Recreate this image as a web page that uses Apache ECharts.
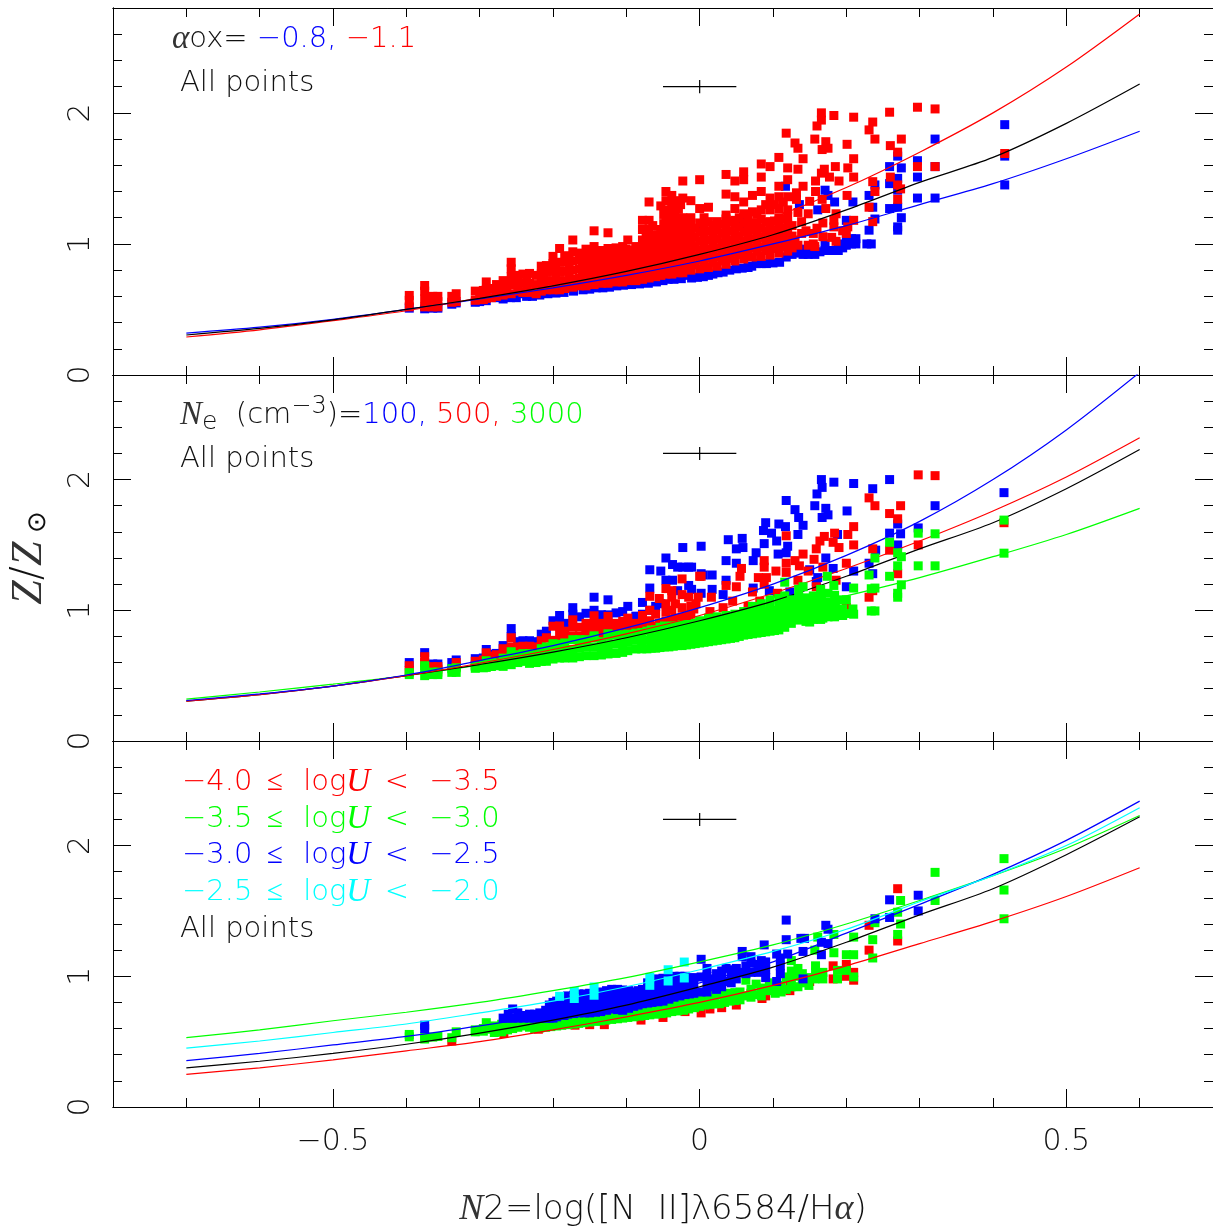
<!DOCTYPE html>
<html>
<head>
<meta charset="utf-8">
<title>Z vs N2</title>
<script src="https://cdn.jsdelivr.net/npm/echarts@6/dist/echarts.min.js"></script>
<style>
html, body { margin: 0; padding: 0; background: #fff; }
#chart_wrap { width: 1213px; height: 1230px; }
</style>
</head>
<body>
<div id="chart_wrap"></div>
<script>
// model curves
var curveX = [-0.7, -0.6, -0.5, -0.4, -0.3, -0.2, -0.1, 0, 0.1, 0.2, 0.3, 0.4, 0.5, 0.6];
var p1Black = [0.305, 0.355, 0.42, 0.5, 0.585, 0.68, 0.79, 0.92, 1.07, 1.26, 1.47, 1.66, 1.92, 2.22];
var p1Blue = [0.32, 0.365, 0.425, 0.5, 0.58, 0.665, 0.76, 0.87, 1.0, 1.14, 1.30, 1.46, 1.65, 1.86];
var p1Red = [0.29, 0.345, 0.415, 0.49, 0.59, 0.70, 0.85, 1.01, 1.20, 1.43, 1.70, 2.0, 2.35, 2.755];
var p2Black = [0.305, 0.355, 0.42, 0.5, 0.585, 0.68, 0.79, 0.92, 1.07, 1.26, 1.47, 1.67, 1.93, 2.23];
var p2Blue = [0.31, 0.36, 0.42, 0.505, 0.615, 0.73, 0.865, 1.02, 1.2, 1.42, 1.68, 2.0, 2.38, 2.82];
var p2Red = [0.305, 0.355, 0.42, 0.5, 0.595, 0.70, 0.82, 0.96, 1.13, 1.32, 1.53, 1.76, 2.02, 2.32];
var p2Green = [0.32, 0.375, 0.435, 0.5, 0.58, 0.66, 0.75, 0.86, 0.98, 1.11, 1.25, 1.41, 1.58, 1.78];
var p3Black = [0.30, 0.35, 0.41, 0.48, 0.565, 0.665, 0.78, 0.92, 1.07, 1.26, 1.47, 1.67, 1.93, 2.22];
var p3Blue = [0.355, 0.41, 0.475, 0.54, 0.62, 0.71, 0.82, 0.95, 1.11, 1.33, 1.55, 1.78, 2.04, 2.34];
var p3Red = [0.25, 0.30, 0.36, 0.43, 0.50, 0.59, 0.69, 0.80, 0.93, 1.08, 1.25, 1.42, 1.61, 1.83];
var p3Green = [0.53, 0.59, 0.66, 0.725, 0.80, 0.89, 0.99, 1.11, 1.24, 1.40, 1.58, 1.77, 1.98, 2.23];
var p3Cyan = [0.45, 0.505, 0.57, 0.635, 0.72, 0.81, 0.92, 1.05, 1.19, 1.36, 1.57, 1.77, 2.0, 2.29];

// +/- error cross
var crossH = [[-0.05, 2.2], [0.05, 2.2]];
var crossV = [[0, 2.15], [0, 2.25]];

// points are stored column by column: [x, y, y, y...]
var p1BlueCols = [
  [-0.396, 0.51], [-0.375, 0.505], [-0.364, 0.51], [-0.357, 0.51], [-0.338, 0.54], [-0.332, 0.55], [-0.306, 0.555],
  [-0.3, 0.56], [-0.291, 0.567], [-0.278, 0.59], [-0.268, 0.58], [-0.258, 0.59], [-0.25, 0.59], [-0.244, 0.62], [-0.236, 0.6],
  [-0.228, 0.60], [-0.218, 0.61], [-0.207, 0.62], [-0.196, 0.625], [-0.185, 0.63], [-0.172, 0.64], [-0.159, 0.65], [-0.15, 0.655],
  [-0.141, 0.665], [-0.132, 0.665], [-0.123, 0.67], [-0.113, 0.68], [-0.104, 0.685], [-0.093, 0.69], [-0.082, 0.695], [-0.07, 0.7],
  [-0.059, 0.71], [-0.05, 0.72], [-0.043, 0.73], [-0.035, 0.73], [-0.027, 0.74], [-0.014, 0.76], [-0.025, 0.735], [-0.011, 0.74],
  [-0.003, 0.745], [0.005, 0.75], [0.012, 0.76], [0.018, 0.77], [0.025, 0.78], [0.032, 0.785], [0.041, 0.8], [0.05, 0.81], [0.058, 0.815],
  [0.066, 0.82], [0.071, 0.83], [0.077, 0.85], [0.084, 0.85], [0.091, 0.85], [0.1, 0.855], [0.109, 0.86], [0.118, 0.90], [0.126, 0.92],
  [0.134, 0.93, 0.96], [0.141, 0.92, 0.96], [0.148, 0.92, 0.95], [0.157, 0.92, 0.96], [0.164, 0.94], [0.171, 0.95, 1.0], [0.18, 0.95], [0.189, 0.95, 1.0], [0.195, 0.97], [0.2, 0.99, 1.03], [0.207, 1.0, 1.04], [0.213, 1.0, 1.04],
  [0.234, 1.0], [0.228, 1.0], [0.231, 1.105, 1.37], [0.27, 1.105, 1.13, 1.28, 1.41, 1.5, 1.67], [0.275, 1.2, 1.58],
  [0.239, 1.19, 1.45], [0.2, 1.18], [0.236, 1.28], [0.259, 1.27, 1.46, 1.59], [0.209, 1.32], [0.184, 1.32],
  [0.297, 1.35, 1.51, 1.635], [0.321, 1.35, 1.59, 1.8], [0.416, 1.45, 1.67, 1.91], [0.171, 1.41], [0.175, 1.37],
  [0.161, 1.26], [0.136, 1.3], [0.117, 1.44], [0.002, 1.13], [0.059, 1.145, 1.18]
];
var p1RedCols = [
  [-0.396, 0.52, 0.57, 0.607], [-0.375, 0.52, 0.58, 0.64, 0.683], [-0.364, 0.52, 0.57, 0.6], [-0.357, 0.52, 0.56, 0.6],
  [-0.338, 0.555, 0.6], [-0.332, 0.56, 0.62], [-0.306, 0.57, 0.64], [-0.295, 0.575, 0.645], [-0.291, 0.585, 0.65, 0.71],
  [-0.284, 0.59, 0.66], [-0.277, 0.6, 0.66, 0.69], [-0.268, 0.61, 0.67, 0.72], [-0.257, 0.62, 0.69, 0.75, 0.81, 0.86],
  [-0.248, 0.64, 0.7, 0.76], [-0.241, 0.63, 0.7, 0.77], [-0.232, 0.63, 0.7, 0.775], [-0.223, 0.62, 0.69, 0.76],
  [-0.216, 0.64, 0.7, 0.77, 0.83], [-0.209, 0.65, 0.72, 0.79, 0.835], [-0.2, 0.65, 0.72, 0.79, 0.85, 0.905],
  [-0.191, 0.65, 0.72, 0.79, 0.86, 0.965], [-0.184, 0.66, 0.72, 0.79, 0.86, 0.91], [-0.173, 0.67, 0.73, 0.8, 0.87, 0.94, 1.03],
  [-0.164, 0.68, 0.74, 0.81, 0.88, 0.93], [-0.155, 0.68, 0.75, 0.82, 0.89, 0.96], [-0.144, 0.69, 0.75, 0.82, 0.89, 0.98, 1.1],
  [-0.134, 0.7, 0.76, 0.83, 0.9, 0.95], [-0.125, 0.7, 0.77, 0.84, 0.91, 0.965, 1.085], [-0.114, 0.71, 0.78, 0.85, 0.91, 0.97],
  [-0.105, 0.71, 0.78, 0.85, 0.92, 0.98], [-0.098, 0.72, 0.79, 0.86, 0.93, 1.03], [-0.087, 0.72, 0.79, 0.86, 0.93, 0.98],
  [-0.078, 0.73, 0.8, 0.87, 0.94, 1.03, 1.11, 1.18], [-0.069, 0.74, 0.81, 0.88, 0.95, 1.02, 1.11, 1.18, 1.32],
  [-0.06, 0.75, 0.82, 0.89, 0.96, 1.03], [-0.053, 0.76, 0.83, 0.9, 0.97, 1.04, 1.11, 1.29],
  [-0.046, 0.77, 0.84, 0.91, 0.98, 1.05, 1.12, 1.19, 1.26, 1.33, 1.4], [-0.038, 0.77, 0.84, 0.91, 0.98, 1.05, 1.12, 1.19, 1.26, 1.31, 1.37],
  [-0.029, 0.78, 0.85, 0.92, 0.99, 1.06, 1.13, 1.2, 1.27, 1.33], [-0.023, 0.78, 0.85, 0.92, 0.99, 1.06, 1.13, 1.2, 1.35, 1.48],
  [-0.012, 0.8, 0.87, 0.94, 1.01, 1.08, 1.15, 1.2, 1.33], [0, 0.81, 0.88, 0.95, 1.02, 1.09, 1.16, 1.27, 1.49],
  [0.012, 0.82, 0.89, 0.96, 1.03, 1.1, 1.17, 1.28], [0.024, 0.83, 0.9, 0.97, 1.04, 1.11, 1.17],
  [0.036, 0.845, 0.91, 0.98, 1.05, 1.12, 1.19, 1.22, 1.38, 1.53], [0.048, 0.87, 0.94, 1.01, 1.08, 1.15, 1.18, 1.27, 1.36, 1.48],
  [0.06, 0.885, 0.95, 1.02, 1.09, 1.16, 1.23, 1.32, 1.49, 1.55], [0.072, 0.9, 0.97, 1.04, 1.11, 1.16, 1.245, 1.37],
  [0.084, 0.905, 0.975, 1.05, 1.12, 1.19, 1.26, 1.4, 1.51, 1.61], [0.096, 0.915, 0.985, 1.06, 1.13, 1.17, 1.26, 1.35, 1.59],
  [0.108, 0.93, 1.0, 1.07, 1.14, 1.2, 1.27, 1.36, 1.44, 1.66], [0.12, 0.945, 1.01, 1.08, 1.15, 1.21, 1.26, 1.36, 1.49, 1.58],
  [0.13, 1.77, 1.03], [0.134, 0.99, 1.24, 1.57, 1.73], [0.139, 1.08, 1.17], [0.141, 1.44, 1.65], [0.132, 1.34, 1.39],
  [0.145, 1.1], [0.148, 0.99, 1.23], [0.15, 1.325], [0.155, 1.0, 1.08], [0.157, 0.98, 1.8], [0.158, 1.4, 1.48], [0.16, 1.12, 1.9], [0.166, 1.54, 1.945, 2.0],
  [0.167, 1.34, 1.72], [0.168, 1.055, 1.16], [0.17, 1.57], [0.172, 1.27, 1.78], [0.175, 1.73], [0.177, 1.51], [0.18, 1.05], [0.183, 1.18, 1.98],
  [0.183, 1.13], [0.185, 1.59], [0.186, 1.02, 1.23], [0.19, 1.48], [0.195, 1.1], [0.2, 1.08], [0.201, 1.37, 1.76], [0.202, 1.13, 1.58],
  [0.21, 1.18, 1.51, 1.65, 1.967], [0.231, 1.28, 1.87], [0.236, 1.17, 1.475, 1.93], [0.239, 1.4, 1.8], [0.259, 2.005],
  [0.26, 1.51, 1.75], [0.27, 1.34, 1.45, 1.7], [0.274, 1.42], [0.275, 1.8], [0.297, 1.59, 2.043], [0.321, 1.59, 2.03], [0.416, 1.69],
  [0.118, 1.845]
];
// second layer of red that closes the gaps in the dense part
var p1RedFill = [
  [-0.3, 0.6], [-0.263, 0.65, 0.7], [-0.236, 0.665, 0.735], [-0.212, 0.68, 0.75], [-0.196, 0.685, 0.755, 0.825], [-0.178, 0.7, 0.765, 0.835, 0.905],
  [-0.16, 0.71, 0.78, 0.85, 0.91], [-0.15, 0.715, 0.785, 0.855, 0.925], [-0.139, 0.725, 0.795, 0.865, 0.93], [-0.129, 0.735, 0.805, 0.875, 0.94],
  [-0.119, 0.745, 0.815, 0.885, 0.95], [-0.11, 0.745, 0.815, 0.885, 0.95], [-0.101, 0.75, 0.82, 0.89, 0.96], [-0.092, 0.755, 0.825, 0.895, 0.955],
  [-0.083, 0.76, 0.83, 0.9, 0.97], [-0.073, 0.77, 0.84, 0.91, 0.98, 1.06], [-0.064, 0.78, 0.85, 0.92, 0.99, 1.07, 1.14], [-0.056, 0.795, 0.865, 0.935, 1.0, 1.07],
  [-0.049, 0.805, 0.875, 0.945, 1.015, 1.085, 1.155, 1.225], [-0.042, 0.805, 0.875, 0.945, 1.015, 1.085, 1.155, 1.225],
  [-0.034, 0.815, 0.885, 0.955, 1.025, 1.095, 1.165, 1.235], [-0.026, 0.815, 0.885, 0.955, 1.025, 1.095, 1.165, 1.3],
  [-0.018, 0.83, 0.9, 0.97, 1.04, 1.11, 1.18], [-0.006, 0.84, 0.91, 0.98, 1.05, 1.12], [0.006, 0.85, 0.92, 0.99, 1.06, 1.13, 1.2],
  [0.018, 0.86, 0.93, 1.0, 1.07, 1.14], [0.03, 0.87, 0.94, 1.01, 1.08, 1.15], [0.042, 0.89, 0.96, 1.03, 1.1, 1.17], [0.054, 0.92, 0.99, 1.06, 1.13, 1.2],
  [0.066, 0.935, 1.005, 1.075, 1.145, 1.21], [0.078, 0.945, 1.015, 1.085, 1.155, 1.225], [0.09, 0.95, 1.02, 1.095, 1.165, 1.3],
  [0.102, 0.965, 1.035, 1.105, 1.175, 1.3], [0.114, 0.98, 1.05, 1.12, 1.19, 1.32], [0.126, 0.97, 1.06, 1.14]
];
var p2BlueCols = [
  [-0.396, 0.6], [-0.375, 0.676], [-0.364, 0.589], [-0.357, 0.589], [-0.338, 0.6], [-0.332, 0.62], [-0.306, 0.63],
  [-0.295, 0.635], [-0.291, 0.7], [-0.284, 0.665], [-0.277, 0.67], [-0.268, 0.73], [-0.257, 0.8, 0.86], [-0.248, 0.76],
  [-0.241, 0.767], [-0.232, 0.767], [-0.223, 0.76], [-0.216, 0.817], [-0.209, 0.84], [-0.2, 0.92], [-0.191, 0.9, 0.96],
  [-0.184, 0.9], [-0.173, 0.97, 1.02], [-0.164, 0.95], [-0.155, 0.977], [-0.144, 1.0, 1.1], [-0.134, 0.966],
  [-0.125, 0.965, 1.08], [-0.114, 0.98], [-0.105, 0.99], [-0.098, 1.03], [-0.087, 0.955], [-0.078, 1.06, 0.97],
  [-0.068, 1.0, 1.17, 1.31], [-0.06, 1.03], [-0.053, 1.3, 1.05], [-0.046, 1.23, 1.4], [-0.037, 1.23, 1.35],
  [-0.03, 1.15, 1.33], [-0.023, 1.33, 1.48], [-0.015, 1.19, 1.33], [-0.011, 1.16, 1.33], [0.002, 1.13, 1.28, 1.49],
  [0.005, 1.27], [0.017, 1.16, 1.27], [0.032, 1.12], [0.036, 1.23, 1.38], [0.039, 1.54], [0.05, 1.36, 1.47], [0.058, 1.55],
  [0.059, 1.48], [0.073, 1.17, 1.38], [0.077, 1.44], [0.087, 1.61], [0.088, 1.51], [0.09, 1.67], [0.095, 1.15], [0.098, 1.59],
  [0.105, 1.53], [0.107, 1.43], [0.108, 1.66], [0.117, 1.64], [0.118, 1.44, 1.84], [0.12, 1.49], [0.123, 1.14], [0.13, 1.77],
  [0.134, 1.58], [0.135, 1.71], [0.141, 1.65], [0.15, 1.31], [0.157, 1.8], [0.159, 1.22], [0.16, 1.89], [0.161, 1.25],
  [0.166, 2.0], [0.167, 1.71, 1.94], [0.172, 1.4, 1.78], [0.175, 1.73], [0.182, 1.32], [0.183, 1.98], [0.188, 1.58],
  [0.2, 1.18], [0.201, 1.76], [0.21, 1.3, 1.97], [0.231, 1.36], [0.236, 1.28, 1.93], [0.24, 1.46], [0.259, 1.59, 2.0],
  [0.27, 1.5, 1.66], [0.274, 1.585], [0.298, 1.63], [0.321, 1.8], [0.415, 1.9]
];
var p2RedCols = [
  [-0.396, 0.54, 0.576], [-0.375, 0.6, 0.645], [-0.364, 0.55, 0.569], [-0.357, 0.55, 0.569], [-0.332, 0.57, 0.6],
  [-0.306, 0.58, 0.61], [-0.295, 0.59, 0.62], [-0.291, 0.63, 0.675], [-0.284, 0.62, 0.65], [-0.277, 0.62, 0.66],
  [-0.268, 0.66, 0.706], [-0.257, 0.72, 0.79], [-0.248, 0.68, 0.72], [-0.241, 0.68, 0.725], [-0.232, 0.68, 0.725],
  [-0.223, 0.68, 0.72], [-0.216, 0.71, 0.767], [-0.209, 0.72, 0.79], [-0.2, 0.77, 0.878], [-0.191, 0.77, 0.82, 0.88],
  [-0.184, 0.78, 0.84], [-0.173, 0.8, 0.87, 0.927], [-0.164, 0.8, 0.87], [-0.155, 0.81, 0.87, 0.9], [-0.144, 0.84, 0.9, 0.958],
  [-0.134, 0.8, 0.86, 0.9], [-0.125, 0.85, 0.9, 0.953], [-0.114, 0.84, 0.9], [-0.105, 0.84, 0.9, 0.916], [-0.098, 0.85, 0.9, 0.94],
  [-0.087, 0.85, 0.9], [-0.078, 0.85, 0.91, 0.96], [-0.068, 0.86, 0.92, 1.0, 1.107], [-0.06, 0.88, 0.97], [-0.055, 0.9, 1.09],
  [-0.046, 0.92, 0.99, 1.05, 1.166], [-0.038, 0.93, 1.0, 1.1, 1.15], [-0.033, 0.94, 1.05], [-0.024, 0.95, 1.02, 1.12, 1.24],
  [-0.015, 0.96, 1.1], [-0.012, 0.97, 1.03], [-0.008, 1.01], [-0.005, 1.05], [-0.002, 1.1], [0.0, 1.26], [0.002, 1.26], [0.014, 0.99],
  [0.016, 1.1], [0.032, 1.02], [0.036, 1.19], [0.045, 1.07], [0.05, 1.18], [0.055, 1.26], [0.057, 1.32], [0.066, 1.03],
  [0.072, 1.14], [0.08, 1.25], [0.082, 1.07], [0.088, 1.2, 1.33, 1.38], [0.091, 1.25], [0.104, 1.3], [0.106, 1.13],
  [0.118, 1.29, 1.36, 1.57], [0.13, 1.38], [0.134, 1.23], [0.136, 1.34], [0.141, 1.43], [0.148, 1.3], [0.156, 1.39],
  [0.159, 1.18, 1.47], [0.164, 1.53], [0.168, 1.33], [0.17, 1.565], [0.182, 1.52], [0.184, 1.59], [0.186, 1.23], [0.19, 1.48],
  [0.2, 1.02, 1.36], [0.202, 1.58], [0.21, 1.5, 1.64], [0.231, 1.1, 1.86], [0.236, 1.15, 1.47], [0.239, 1.8], [0.259, 1.46, 1.74],
  [0.27, 1.28, 1.7], [0.274, 1.8], [0.298, 1.5, 2.036], [0.321, 2.03], [0.415, 1.67]
];
var p2GreenCols = [
  [-0.396, 0.508, 0.523], [-0.375, 0.5, 0.55, 0.576], [-0.364, 0.508, 0.527], [-0.357, 0.508, 0.527], [-0.338, 0.525, 0.553],
  [-0.332, 0.525, 0.56], [-0.306, 0.556, 0.571], [-0.295, 0.56, 0.58], [-0.291, 0.563, 0.614], [-0.284, 0.57, 0.6], [-0.277, 0.576, 0.596],
  [-0.268, 0.571, 0.634], [-0.257, 0.584, 0.64, 0.683], [-0.248, 0.6, 0.66], [-0.241, 0.609, 0.668], [-0.232, 0.594, 0.65, 0.668],
  [-0.223, 0.6, 0.66], [-0.216, 0.609, 0.66, 0.706], [-0.209, 0.61, 0.67, 0.72], [-0.2, 0.627, 0.69, 0.744], [-0.191, 0.635, 0.69, 0.74],
  [-0.184, 0.635, 0.7, 0.75], [-0.173, 0.635, 0.7, 0.775], [-0.164, 0.645, 0.71, 0.775], [-0.155, 0.653, 0.72, 0.775],
  [-0.144, 0.653, 0.72, 0.79, 0.805], [-0.134, 0.658, 0.72, 0.76], [-0.125, 0.666, 0.73, 0.8, 0.82], [-0.114, 0.67, 0.74, 0.81],
  [-0.105, 0.678, 0.745, 0.813], [-0.098, 0.691, 0.755, 0.817], [-0.087, 0.704, 0.77, 0.825], [-0.079, 0.705, 0.765, 0.83], [-0.072, 0.705, 0.77, 0.84],
  [-0.066, 0.71, 0.74, 0.8, 0.85], [-0.06, 0.71, 0.77, 0.83, 0.85], [-0.054, 0.715, 0.75, 0.81, 0.87], [-0.048, 0.72, 0.78, 0.84, 0.88], [-0.042, 0.72, 0.755, 0.815, 0.875],
  [-0.036, 0.725, 0.79, 0.85, 0.88], [-0.03, 0.73, 0.76, 0.82, 0.88], [-0.024, 0.73, 0.79, 0.86, 0.89], [-0.018, 0.735, 0.77, 0.83, 0.89],
  [-0.012, 0.74, 0.8, 0.86, 0.89], [-0.006, 0.745, 0.78, 0.84, 0.9], [0, 0.75, 0.81, 0.87, 0.92], [0.006, 0.755, 0.79, 0.85, 0.91], [0.012, 0.76, 0.82, 0.88, 0.94], [0.018, 0.765, 0.8, 0.86, 0.92],
  [0.024, 0.77, 0.83, 0.89, 0.95], [0.03, 0.775, 0.81, 0.87, 0.93], [0.036, 0.78, 0.84, 0.9, 0.96], [0.042, 0.785, 0.82, 0.88, 0.94], [0.048, 0.79, 0.85, 0.91, 0.97], [0.054, 0.8, 0.84, 0.9, 0.96],
  [0.06, 0.81, 0.87, 0.93, 0.99], [0.066, 0.815, 0.85, 0.91, 0.97], [0.072, 0.82, 0.88, 0.94, 1.0, 1.03], [0.078, 0.825, 0.86, 0.92, 0.98],
  [0.084, 0.83, 0.89, 0.95, 1.01, 1.05], [0.09, 0.835, 0.87, 0.93, 0.99], [0.096, 0.84, 0.9, 0.96, 1.02, 1.08], [0.102, 0.845, 0.88, 0.94, 1.0], [0.108, 0.85, 0.91, 0.97, 1.03, 1.09],
  [0.116, 0.87, 0.93, 0.99, 1.05, 1.11, 1.215]
];
// this group sits over the curves in the picture
var p2GreenTopCols = [
  [0.125, 0.9, 0.96, 1.02, 1.08], [0.132, 0.93, 1.07], [0.134, 0.925], [0.135, 0.98, 1.04, 1.1, 1.16], [0.136, 1.01], [0.141, 1.18], [0.143, 1.09], [0.145, 0.915, 0.975, 1.035, 1.095],
  [0.148, 1.025], [0.15, 0.91], [0.155, 0.93, 0.99, 1.05, 1.11], [0.157, 0.95, 1.09], [0.165, 0.93, 0.99, 1.05, 1.11, 1.16], [0.166, 1.1], [0.168, 0.94, 1.03], [0.174, 1.26], [0.175, 0.95, 1.0, 1.06, 1.13], [0.183, 1.19], [0.184, 0.95, 1.115],
  [0.185, 1.01, 1.07], [0.195, 0.96, 1.01, 1.08], [0.2, 0.975, 1.08], [0.209, 1.01], [0.21, 0.97, 1.17], [0.231, 1.27], [0.234, 0.995, 1.165], [0.239, 0.995, 1.17, 1.4],
  [0.259, 1.26, 1.52], [0.27, 1.1, 1.13, 1.34, 1.44], [0.275, 1.195, 1.41], [0.298, 1.34, 1.59], [0.321, 1.34, 1.585], [0.415, 1.437, 1.69]
];
var p3RedCols = [
  [-0.338, 0.505], [-0.267, 0.562], [-0.22, 0.595], [-0.17, 0.626], [-0.15, 0.63], [-0.13, 0.63], [-0.08, 0.665], [-0.05, 0.685],
  [-0.02, 0.73], [0.002, 0.72], [0.014, 0.75], [0.03, 0.76], [0.05, 0.78], [0.07, 0.87], [0.085, 0.83], [0.09, 0.85], [0.123, 0.89, 0.93],
  [0.15, 0.96], [0.16, 1.0], [0.182, 0.98, 1.08], [0.2, 1.0, 1.09], [0.21, 0.97, 1.03], [0.231, 1.2, 1.39], [0.27, 1.27, 1.67]
];
var p3GreenCols = [
  [-0.396, 0.537, 0.555], [-0.375, 0.52, 0.537], [-0.364, 0.535], [-0.357, 0.54], [-0.338, 0.53], [-0.332, 0.575], [-0.306, 0.575, 0.59],
  [-0.295, 0.58, 0.6], [-0.291, 0.595, 0.645], [-0.28, 0.57, 0.62], [-0.27, 0.575, 0.633], [-0.262, 0.59, 0.645], [-0.255, 0.6, 0.66], [-0.248, 0.61, 0.665], [-0.24, 0.62, 0.67],
  [-0.232, 0.61, 0.665], [-0.225, 0.6, 0.66], [-0.218, 0.605, 0.665], [-0.21, 0.61, 0.67], [-0.203, 0.615, 0.675], [-0.195, 0.62, 0.68], [-0.188, 0.625, 0.685], [-0.18, 0.63, 0.69],
  [-0.172, 0.635, 0.695], [-0.165, 0.64, 0.7], [-0.158, 0.645, 0.705], [-0.15, 0.65, 0.71], [-0.142, 0.655, 0.715],
  [-0.135, 0.66, 0.72], [-0.128, 0.665, 0.725], [-0.12, 0.67, 0.73], [-0.112, 0.675, 0.735], [-0.105, 0.68, 0.74], [-0.098, 0.685, 0.745], [-0.09, 0.69, 0.75], [-0.082, 0.695, 0.755],
  [-0.075, 0.7, 0.76], [-0.068, 0.705, 0.765], [-0.06, 0.71, 0.77], [-0.052, 0.715, 0.775],
  [-0.045, 0.72, 0.78], [-0.038, 0.73, 0.785], [-0.03, 0.735, 0.79], [-0.022, 0.74, 0.8], [-0.015, 0.75, 0.81], [-0.007, 0.76, 0.82], [0, 0.77, 0.83], [0.007, 0.78, 0.84], [0.014, 0.785, 0.85], [0.02, 0.79, 0.855], [0.027, 0.79, 0.86],
  [0.034, 0.8, 0.865], [0.041, 0.81, 0.87], [0.048, 0.815, 0.875], [0.055, 0.82, 0.88], [0.063, 0.97, 0.85], [0.07, 0.84, 0.9], [0.077, 0.94, 0.86], [0.084, 0.85, 0.91], [0.095, 0.89, 0.95],
  [0.103, 0.87, 0.93], [0.111, 0.88, 0.93], [0.118, 0.995, 0.9], [0.125, 0.92, 0.98, 1.04, 1.12], [0.134, 0.92, 1.06, 1.0], [0.14, 0.95, 1.02], [0.149, 0.93, 0.99], [0.157, 0.98, 1.2], [0.158, 1.08, 1.03], [0.161, 1.3],
  [0.168, 0.98, 1.03], [0.183, 1.18, 1.32], [0.188, 0.98, 1.045], [0.2, 1.045, 1.165], [0.21, 0.995, 1.165, 1.3], [0.236, 1.14, 1.28],
  [0.239, 1.41], [0.27, 1.32, 1.49], [0.274, 1.4, 1.58], [0.321, 1.58, 1.795], [0.415, 1.44, 1.66, 1.9]
];
var p3BlueCols = [
  [-0.375, 0.6, 0.626], [-0.268, 0.68], [-0.261, 0.68, 0.71], [-0.255, 0.68, 0.75], [-0.248, 0.68, 0.72], [-0.24, 0.68, 0.7], [-0.232, 0.68, 0.71], [-0.225, 0.68, 0.71], [-0.218, 0.68, 0.72], [-0.21, 0.68, 0.74],
  [-0.205, 0.68, 0.74, 0.78], [-0.2, 0.68, 0.74, 0.8], [-0.195, 0.69, 0.75, 0.81], [-0.19, 0.7, 0.76, 0.82], [-0.185, 0.7, 0.765, 0.825], [-0.18, 0.71, 0.77, 0.83, 0.85], [-0.172, 0.715, 0.775, 0.835, 0.855], [-0.165, 0.72, 0.78, 0.84, 0.865],
  [-0.157, 0.72, 0.78, 0.84, 0.865], [-0.15, 0.72, 0.78, 0.84, 0.87], [-0.142, 0.725, 0.785, 0.845, 0.875], [-0.135, 0.73, 0.79, 0.85, 0.88], [-0.127, 0.74, 0.8, 0.86, 0.89], [-0.12, 0.75, 0.81, 0.87, 0.9], [-0.112, 0.745, 0.805, 0.865, 0.9], [-0.105, 0.74, 0.8, 0.86, 0.895],
  [-0.097, 0.755, 0.815, 0.875, 0.89], [-0.09, 0.77, 0.83, 0.88], [-0.084, 0.78, 0.84, 0.89], [-0.078, 0.79, 0.85, 0.9], [-0.071, 0.795, 0.855, 0.91, 0.95], [-0.065, 0.8, 0.86, 0.92, 0.97], [-0.057, 0.805, 0.865, 0.925, 0.98], [-0.05, 0.81, 0.87, 0.93, 0.985],
  [-0.042, 0.825, 0.885, 0.945, 0.99], [-0.035, 0.84, 0.9, 0.96, 1.0], [-0.027, 0.85, 0.91, 0.97, 1.0], [-0.02, 0.86, 0.92, 0.98, 1.0], [-0.014, 0.865, 0.925, 0.985], [-0.008, 0.87, 0.93, 0.99], [0.002, 1.13, 0.88, 0.995],
  [0.01, 0.88, 0.94, 1.0, 1.06], [0.017, 0.92, 0.98], [0.023, 0.9, 0.96, 1.02], [0.03, 0.92, 0.98, 1.04], [0.036, 1.06, 0.96], [0.043, 0.95, 0.99, 1.05], [0.05, 0.98, 1.03, 1.06],
  [0.055, 1.03], [0.058, 1.15, 1.19], [0.063, 1.02, 1.08], [0.07, 1.03, 1.1, 1.15], [0.08, 1.03, 1.09], [0.084, 1.12], [0.088, 1.24], [0.09, 0.99, 1.05, 1.11],
  [0.105, 0.96, 1.17], [0.11, 1.02, 1.08, 1.14], [0.118, 1.28, 1.43], [0.12, 1.17], [0.138, 1.29], [0.141, 0.98, 1.19], [0.143, 1.29],
  [0.166, 1.165, 1.26], [0.172, 1.39], [0.175, 1.25, 1.36], [0.239, 1.44], [0.259, 1.45, 1.585], [0.298, 1.5, 1.62]
];
var p3CyanCols = [
  [-0.191, 0.847], [-0.171, 0.83, 0.885], [-0.144, 0.855, 0.918], [-0.068, 0.931, 0.992], [-0.043, 0.964, 1.05], [-0.021, 0.987, 1.109]
];

var xMinorTicks = [-0.7, -0.6, -0.4, -0.3, -0.2, -0.1, 0.1, 0.2, 0.3, 0.4, 0.6];
var xMajorTicks = [-0.5, 0, 0.5];
var yMinorTicks = [0.2, 0.4, 0.6, 0.8, 1.2, 1.4, 1.6, 1.8, 2.2, 2.4, 2.6];
var yMajorTicks = [0, 1, 2];

var panelTops = [8, 375, 741];
var panelHeights = [367, 366, 366];

var FONT = 'DejaVu Sans';
var WEIGHT = 200;
var SERIF = 'Liberation Serif';
var BLUE = '#0000ff', RED = '#ff0000', GREEN = '#00ff00', CYAN = '#00ffff', BLACK = '#000000';

function flatten(cols) {
    var res = [];
    for (var i = 0; i < cols.length; i++) {
        for (var j = 1; j < cols[i].length; j++) {
            res.push([cols[i][0], cols[i][j]]);
        }
    }
    return res;
}

function pairUp(ys) {
    var res = [];
    for (var i = 0; i < ys.length; i++) {
        res.push([curveX[i], ys[i]]);
    }
    return res;
}

var grids = [], xAxes = [], yAxes = [], series = [];

// one axis pair per side; the majors live on an overlaid grid because a tick length is per axis
function addAxes(panel, values, valuesY, tickLen, withLabels) {
    var gridIndex = grids.length;
    grids.push({ left: 113, width: 1100, top: panelTops[panel], height: panelHeights[panel], outerBoundsMode: 'none' });
    ['bottom', 'top'].forEach(function (pos) {
        var showX = withLabels && pos === 'bottom' && panel === 2;
        xAxes.push({
            gridIndex: gridIndex, type: 'value', position: pos, min: -0.8, max: 0.7, interval: 0.1,
            splitLine: { show: false },
            axisLine: { onZero: false, lineStyle: { color: '#000', width: 1 } },
            axisTick: { inside: true, length: tickLen, customValues: values, lineStyle: { color: '#000', width: 1 } },
            axisLabel: {
                show: showX, customValues: xMajorTicks, margin: 20, fontFamily: FONT, fontWeight: WEIGHT, fontSize: 30, color: '#111',
                formatter: function (v) { return v < 0 ? '\u2212' + (-v) : '' + v; }
            },
            name: showX ? '{i|N}{t|2=log([N  II]\u03bb6584/H}{i|\u03b1}{t|)}' : '',
            nameLocation: 'middle', nameGap: 85,
            nameTextStyle: {
                rich: {
                    i: { fontFamily: SERIF, fontStyle: 'italic', fontWeight: 'normal', fontSize: 36, color: '#333' },
                    t: { fontFamily: FONT, fontWeight: WEIGHT, fontSize: 34, color: '#111' }
                }
            }
        });
    });
    ['left', 'right'].forEach(function (pos) {
        var showY = withLabels && pos === 'left';
        var showName = showY && panel === 1;
        yAxes.push({
            gridIndex: gridIndex, type: 'value', position: pos, min: 0, max: 2.8, interval: 0.2,
            splitLine: { show: false },
            axisLine: { onZero: false, lineStyle: { color: '#000', width: 1 } },
            axisTick: { inside: true, length: tickLen, customValues: valuesY, lineStyle: { color: '#000', width: 1 } },
            axisLabel: {
                show: showY, customValues: yMajorTicks, rotate: 90, margin: 17, fontFamily: FONT, fontWeight: WEIGHT, fontSize: 30, color: '#111',
                formatter: function (v) { return '' + v; }
            },
            name: showName ? '{i|Z}{t|/}{i|Z}{s| \u2299}' : '',
            nameLocation: 'middle', nameRotate: 90, nameGap: 62,
            nameTextStyle: {
                rich: {
                    i: { fontFamily: SERIF, fontStyle: 'italic', fontWeight: 'normal', fontSize: 44, color: '#333' },
                    t: { fontFamily: FONT, fontWeight: WEIGHT, fontSize: 42, color: '#111' },
                    s: { fontFamily: FONT, fontWeight: WEIGHT, fontSize: 26, color: '#111', verticalAlign: 'bottom' }
                }
            }
        });
    });
    return gridIndex;
}

function addPoints(gridIndex, cols, color, z) {
    series.push({
        type: 'scatter', xAxisIndex: gridIndex * 2, yAxisIndex: gridIndex * 2, data: flatten(cols),
        symbol: 'rect', symbolSize: 9, itemStyle: { color: color, opacity: 1 }, silent: true, z: z || 2
    });
}

function addCurve(gridIndex, data, color) {
    series.push({
        type: 'line', xAxisIndex: gridIndex * 2, yAxisIndex: gridIndex * 2, data: data,
        symbol: 'none', smooth: 0.3, lineStyle: { color: color, width: 1.2 }, silent: true, z: 3
    });
}

var panelGrids = [];
for (var p = 0; p < 3; p++) {
    var g = addAxes(p, xMinorTicks, yMinorTicks, 9, false);
    addAxes(p, xMajorTicks, yMajorTicks, 18, true);
    panelGrids.push(g);
    addCurve(g, crossH, BLACK);
    addCurve(g, crossV, BLACK);
}

addPoints(panelGrids[0], p1BlueCols, BLUE);
addPoints(panelGrids[0], p1RedCols, RED);
addPoints(panelGrids[0], p1RedFill, RED);
addCurve(panelGrids[0], pairUp(p1Blue), BLUE);
addCurve(panelGrids[0], pairUp(p1Red), RED);
addCurve(panelGrids[0], pairUp(p1Black), BLACK);

addPoints(panelGrids[1], p2BlueCols, BLUE);
addPoints(panelGrids[1], p2RedCols, RED);
addPoints(panelGrids[1], p2GreenCols, GREEN);
addCurve(panelGrids[1], pairUp(p2Green), GREEN);
addCurve(panelGrids[1], pairUp(p2Black), BLACK);
addCurve(panelGrids[1], pairUp(p2Red), RED);
addCurve(panelGrids[1], pairUp(p2Blue), BLUE);
addPoints(panelGrids[1], p2GreenTopCols, GREEN, 4);

addPoints(panelGrids[2], p3RedCols, RED);
addPoints(panelGrids[2], p3GreenCols, GREEN);
addPoints(panelGrids[2], p3BlueCols, BLUE);
addPoints(panelGrids[2], p3CyanCols, CYAN);
addCurve(panelGrids[2], pairUp(p3Red), RED);
addCurve(panelGrids[2], pairUp(p3Green), GREEN);
addCurve(panelGrids[2], pairUp(p3Blue), BLUE);
addCurve(panelGrids[2], pairUp(p3Cyan), CYAN);
addCurve(panelGrids[2], pairUp(p3Black), BLACK);

// annotations
function sans(color, size) { return { fontFamily: FONT, fontWeight: WEIGHT, fontSize: size || 29, color: color }; }
function ital(color) { return { fontFamily: SERIF, fontStyle: 'italic', fontWeight: 'normal', fontSize: 33, color: color }; }

var baseRich = {
    k: sans('#111'), a: ital('#333'),
    sub: { fontFamily: FONT, fontWeight: WEIGHT, fontSize: 25, color: '#111', verticalAlign: 'bottom' },
    sup: { fontFamily: FONT, fontWeight: WEIGHT, fontSize: 24, color: '#111', verticalAlign: 'top' },
    b: sans(BLUE), r: sans(RED), g: sans(GREEN), c: sans(CYAN),
    bi: ital(BLUE), ri: ital(RED), gi: ital(GREEN), ci: ital(CYAN)
};

function note(text, left, centerY) {
    return { text: text, left: left, top: centerY - 19, padding: 0, textStyle: { rich: baseRich, lineHeight: 40 } };
}

function uRow(tag, a, b) {
    return '{' + tag + '|\u2212' + a + '\u2002\u2264\u2002\u2009log}{' + tag + 'i|U}{' + tag + '|\u2002<\u2002\u2009\u2212' + b + '}';
}

var notes = [
    note('{a|\u03b1}{k|ox= }{b|\u22120.8, }{r|\u22121.1}', 172, 38),
    note('{k|All points}', 180, 82),
    note('{a|N}{sub|e}{k|  (cm}{sup|\u22123}{k|)=}{b|100, }{r|500, }{g|3000}', 180, 414),
    note('{k|All points}', 180, 458),
    note(uRow('r', '4.0', '3.5'), 182, 781),
    note(uRow('g', '3.5', '3.0'), 182, 818),
    note(uRow('b', '3.0', '2.5'), 182, 854),
    note(uRow('c', '2.5', '2.0'), 182, 891),
    note('{k|All points}', 180, 928)
];

var chart = echarts.init(document.getElementById('chart_wrap'));
chart.setOption({
    backgroundColor: '#fff',
    animation: false,
    title: notes,
    grid: grids,
    xAxis: xAxes,
    yAxis: yAxes,
    series: series
});
</script>
</body>
</html>
